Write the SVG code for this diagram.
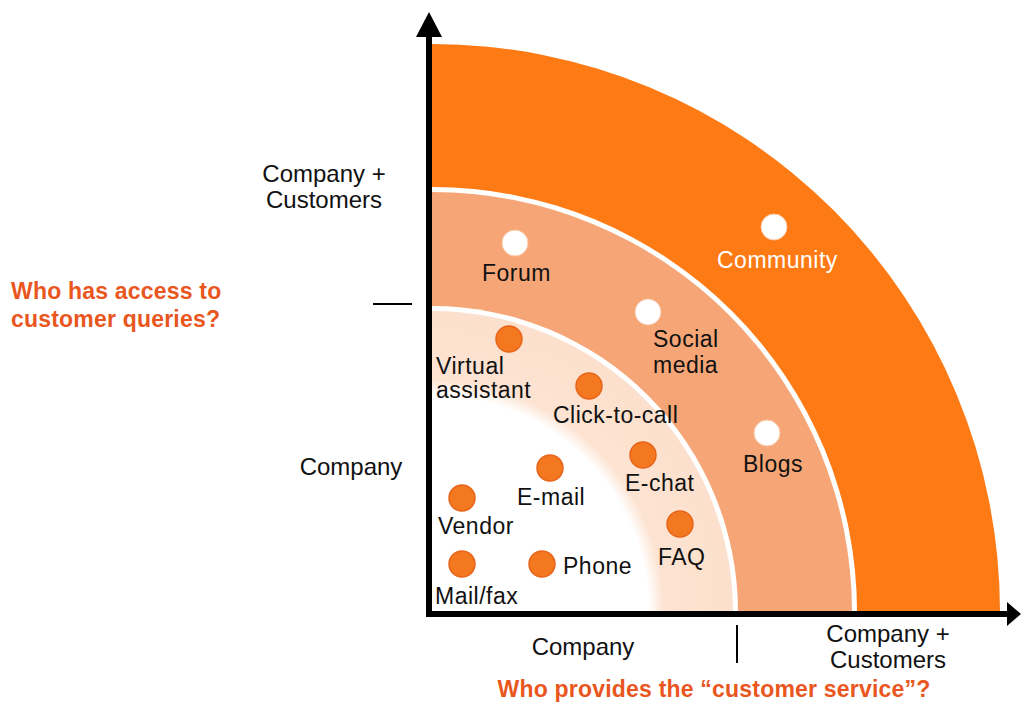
<svg xmlns="http://www.w3.org/2000/svg" width="1021" height="702" viewBox="0 0 1021 702">
<style>
.lbl{font-family:"Liberation Sans",Arial,sans-serif;font-size:23px;fill:#111;letter-spacing:0.5px}
.ax{font-family:"Liberation Sans",Arial,sans-serif;font-size:24px;fill:#111}
.q{font-family:"Liberation Sans",Arial,sans-serif;font-size:23px;font-weight:bold;fill:#E9561E;letter-spacing:0.2px}
.od{fill:#F47820;stroke:#E8651A;stroke-width:1.5}
.wd{fill:#FFFFFF;stroke:#F9C9A8;stroke-width:1}
.axis{stroke:#000;stroke-width:6;fill:none}
</style>
<defs>
<radialGradient id="inner" gradientUnits="userSpaceOnUse" cx="432" cy="612" r="301">
<stop offset="0" stop-color="#FFFFFF"/>
<stop offset="0.72" stop-color="#FFFFFF"/>
<stop offset="0.77" stop-color="#FDE3D2"/>
<stop offset="1" stop-color="#FCE0CD"/>
</radialGradient>
</defs>
<rect width="1021" height="702" fill="#FFFFFF"/>
<g id="bands">
<path d="M432,612 L432,44 A568,568 0 0 1 1000,612 Z" fill="#FD7A14"/>
<path d="M432,612 L432,187 A425,425 0 0 1 857,612 Z" fill="#FFFFFF"/>
<path d="M432,612 L432,192 A420,420 0 0 1 852,612 Z" fill="#F6A676"/>
<path d="M432,612 L432,306 A306,306 0 0 1 738,612 Z" fill="#FFFFFF"/>
<path d="M432,612 L432,311 A301,301 0 0 1 733,612 Z" fill="url(#inner)"/>
</g>
<g id="connectors">
<line class="axis" x1="429" y1="617" x2="429" y2="34"/>
<polygon points="416,37 442,37 429,12" fill="#000"/>
<line class="axis" x1="426" y1="614" x2="1008" y2="614"/>
<polygon points="1007,602 1007,626 1021,614" fill="#000"/>
<line x1="373" y1="304" x2="412" y2="304" stroke="#000" stroke-width="2"/>
<line x1="737" y1="625" x2="737" y2="663" stroke="#000" stroke-width="2"/>
</g>
<g id="axis-labels">
<text class="ax" x="324" y="182" text-anchor="middle">Company +</text>
<text class="ax" x="324" y="208" text-anchor="middle">Customers</text>
<text class="ax" x="351" y="475" text-anchor="middle">Company</text>
<text class="q" x="11" y="299">Who has access to</text>
<text class="q" x="11" y="327">customer queries?</text>
<text class="ax" x="583" y="655" text-anchor="middle">Company</text>
<text class="ax" x="888" y="642" text-anchor="middle">Company +</text>
<text class="ax" x="888" y="668" text-anchor="middle">Customers</text>
<text class="q" x="714" y="697" text-anchor="middle">Who provides the “customer service”?</text>
</g>
<g id="node-community"><circle class="wd" cx="774" cy="227" r="13"/><text class="lbl" x="717" y="268" style="fill:#FFFFFF">Community</text></g>
<g id="node-forum"><circle class="wd" cx="515" cy="243" r="13"/><text class="lbl" x="482" y="281">Forum</text></g>
<g id="node-social"><circle class="wd" cx="648" cy="312" r="13"/><text class="lbl" x="653" y="347">Social</text><text class="lbl" x="653" y="373">media</text></g>
<g id="node-blogs"><circle class="wd" cx="767" cy="433" r="13"/><text class="lbl" x="743" y="472">Blogs</text></g>
<g id="node-virtual"><circle class="od" cx="509" cy="339" r="13"/><text class="lbl" x="436" y="374">Virtual</text><text class="lbl" x="436" y="398">assistant</text></g>
<g id="node-click"><circle class="od" cx="589" cy="386" r="13"/><text class="lbl" x="553" y="423">Click-to-call</text></g>
<g id="node-email"><circle class="od" cx="550" cy="468" r="13"/><text class="lbl" x="517" y="505">E-mail</text></g>
<g id="node-echat"><circle class="od" cx="643" cy="455" r="13"/><text class="lbl" x="625" y="491">E-chat</text></g>
<g id="node-vendor"><circle class="od" cx="462" cy="498" r="13"/><text class="lbl" x="438" y="534">Vendor</text></g>
<g id="node-faq"><circle class="od" cx="680" cy="524" r="13"/><text class="lbl" x="658" y="565">FAQ</text></g>
<g id="node-mailfax"><circle class="od" cx="462" cy="564" r="13"/><text class="lbl" x="435" y="604">Mail/fax</text></g>
<g id="node-phone"><circle class="od" cx="542" cy="564" r="13"/><text class="lbl" x="563" y="574">Phone</text></g>
</svg>
